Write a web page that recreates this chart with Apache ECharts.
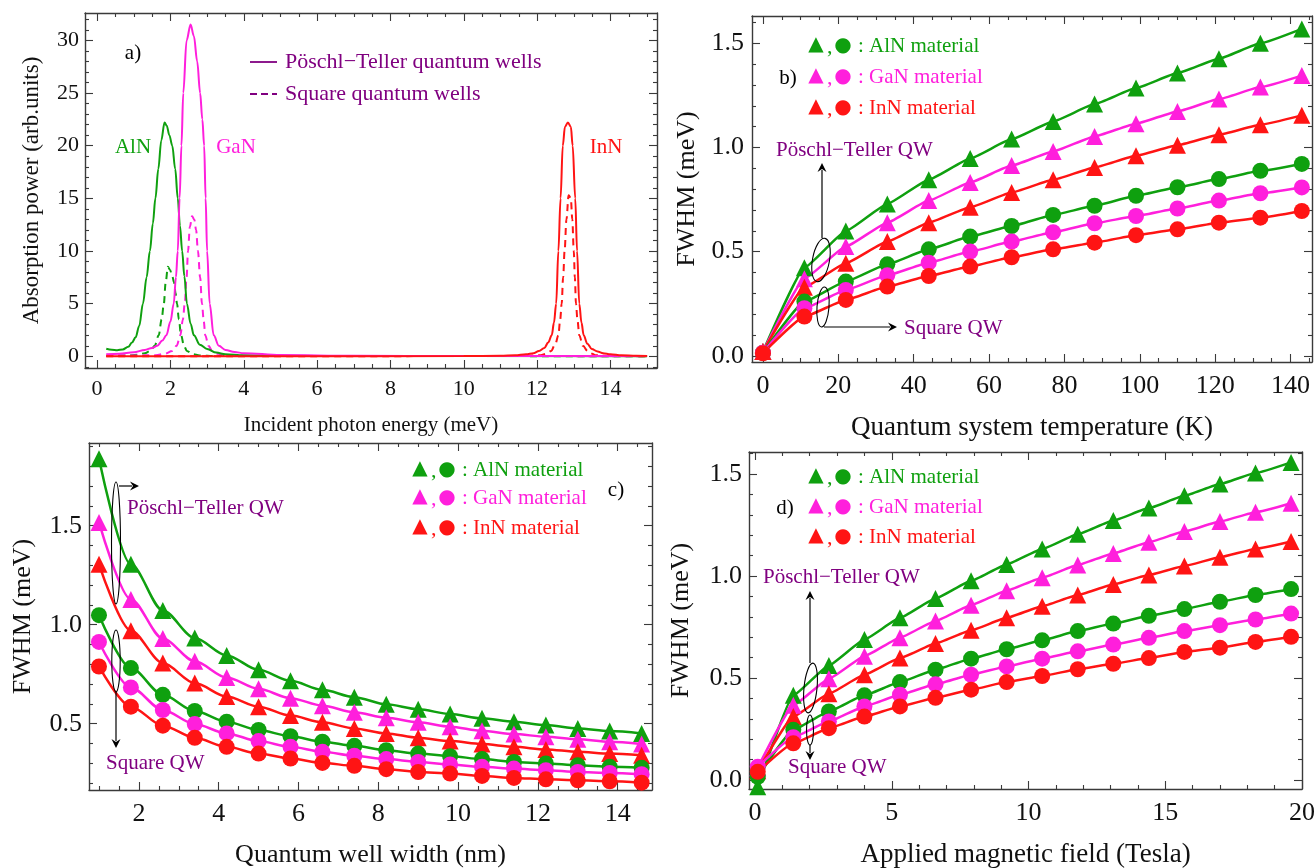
<!DOCTYPE html>
<html><head><meta charset="utf-8">
<script src="https://cdn.jsdelivr.net/npm/echarts@6/dist/echarts.min.js"></script>
<style>html,body{margin:0;padding:0;background:#fff}#c{width:1315px;height:868px}</style>
</head><body><div id="c"></div>
<script>
// ---------- Panel a: absorption spectra ([energy meV, absorption]) ----------
const aAlnPT = [[0.25,0.72],[0.4,0.62],[0.55,0.58],[0.7,0.65],[0.85,0.9],[0.95,1.3],[1.05,1.8],[1.15,2.9],[1.25,5.0],[1.35,7.5],[1.44,10],[1.52,12.6],[1.59,15],[1.67,17.8],[1.75,20.5],[1.84,22.2],[1.9,21.9],[1.97,21.0],[2.05,20.0],[2.13,17.8],[2.2,15],[2.26,12.4],[2.32,10],[2.38,7.6],[2.45,5],[2.55,3.1],[2.64,2],[2.8,1.1],[3.0,0.7],[3.25,0.35],[3.5,0.2],[4.0,0.1],[5,0.05],[7,0.02],[15,0.01]];
const aGanPT = [[0.25,0.2],[0.6,0.25],[1.0,0.38],[1.3,0.6],[1.5,0.8],[1.64,1.0],[1.78,1.5],[1.89,2.0],[2.0,3.3],[2.09,5],[2.15,7.5],[2.2,10],[2.25,15],[2.3,20],[2.35,25],[2.44,30],[2.55,31.5],[2.64,30.4],[2.73,28],[2.81,25],[2.87,22.5],[2.92,20],[2.96,15],[3.0,10],[3.07,5],[3.18,2],[3.32,1],[3.5,0.6],[3.75,0.4],[4.0,0.3],[5,0.12],[7,0.05],[10,0.03],[15,0.02]];
const aInnPT = [[0.25,0],[5,0],[10,0.02],[11,0.05],[11.4,0.1],[11.7,0.2],[11.9,0.3],[12.05,0.5],[12.2,0.8],[12.3,1.3],[12.4,2],[12.46,3.2],[12.52,5],[12.58,10],[12.64,15],[12.7,20],[12.76,21.8],[12.84,22.2],[12.92,21.8],[12.97,20],[13.04,15],[13.09,10],[13.15,5],[13.21,3.2],[13.27,2],[13.37,1.2],[13.49,0.7],[13.65,0.45],[13.8,0.3],[14.0,0.2],[14.3,0.1],[14.7,0.05],[15,0.03]];
const aAlnSQ = [[0.25,0.05],[0.8,0.07],[1.1,0.15],[1.3,0.3],[1.45,0.5],[1.57,1.0],[1.68,2],[1.76,3.5],[1.82,5],[1.87,7],[1.93,8.5],[1.99,8.2],[2.05,7.6],[2.1,7.0],[2.14,6.0],[2.18,5],[2.23,3.5],[2.29,2],[2.37,1.0],[2.45,0.5],[2.6,0.2],[2.8,0.08],[3.2,0.03],[15,0.01]];
const aGanSQ = [[0.25,0.05],[1.0,0.08],[1.6,0.1],[1.85,0.25],[2.05,0.5],[2.17,1.0],[2.27,2],[2.34,3.5],[2.39,5],[2.44,7.5],[2.48,10],[2.53,12.3],[2.59,13.3],[2.65,13.0],[2.7,12],[2.75,10],[2.81,7.5],[2.86,5],[2.91,3.3],[2.95,2],[3.04,1.0],[3.14,0.5],[3.3,0.25],[3.5,0.1],[4,0.04],[15,0.01]];
const aInnSQ = [[0.25,0],[11.5,0.02],[12.1,0.1],[12.25,0.25],[12.38,0.5],[12.5,1.2],[12.58,2],[12.63,3.5],[12.67,5],[12.71,7.5],[12.75,10],[12.8,13],[12.86,15.3],[12.92,15],[12.96,13],[13.0,10],[13.03,7.5],[13.06,5],[13.1,3.5],[13.15,2],[13.25,1.0],[13.38,0.5],[13.5,0.25],[13.6,0.1],[14,0.03],[15,0.01]];
const aXTicks = [0,2,4,6,8,10,12,14];
const aYTicks = [0,5,10,15,20,25,30];

// ---------- Panel b: FWHM vs temperature ----------
const tempK = [0,11,22,33,44,55,66,77,88,99,110,121,132,143];
const bAlnPT = [0.02,0.423,0.599,0.729,0.845,0.947,1.040,1.125,1.208,1.285,1.357,1.426,1.500,1.569];
const bGanPT = [0.02,0.370,0.524,0.639,0.745,0.832,0.913,0.981,1.053,1.114,1.173,1.232,1.290,1.345];
const bInnPT = [0.02,0.329,0.444,0.548,0.639,0.713,0.784,0.845,0.904,0.960,1.011,1.061,1.109,1.154];
const bAlnSQ = [0.015,0.260,0.356,0.439,0.511,0.572,0.623,0.676,0.720,0.768,0.809,0.848,0.888,0.921];
const bGanSQ = [0.015,0.228,0.316,0.386,0.447,0.500,0.548,0.593,0.636,0.671,0.707,0.745,0.780,0.808];
const bInnSQ = [0.012,0.188,0.268,0.332,0.383,0.428,0.473,0.511,0.543,0.579,0.607,0.639,0.663,0.695];
const bXTicks = [0,20,40,60,80,100,120,140];
const bYTicks = [0,0.5,1.0,1.5];

// ---------- Panel c: FWHM vs well width ----------
const widthNm = [1.0,1.8,2.6,3.4,4.2,5.0,5.8,6.6,7.4,8.2,9.0,9.8,10.6,11.4,12.2,13.0,13.8,14.6];
const cAlnPT = [1.838,1.305,1.072,0.933,0.845,0.772,0.717,0.671,0.634,0.598,0.573,0.549,0.527,0.510,0.493,0.476,0.463,0.451];
const cGanPT = [1.517,1.128,0.930,0.815,0.733,0.676,0.629,0.591,0.558,0.530,0.507,0.485,0.464,0.448,0.434,0.422,0.409,0.397];
const cInnPT = [1.305,0.970,0.806,0.705,0.637,0.586,0.541,0.507,0.476,0.451,0.429,0.412,0.397,0.383,0.370,0.358,0.349,0.341];
const cAlnSQ = [1.048,0.781,0.646,0.564,0.510,0.468,0.437,0.409,0.388,0.366,0.349,0.336,0.321,0.307,0.299,0.290,0.282,0.277];
const cGanSQ = [0.913,0.683,0.569,0.498,0.451,0.412,0.383,0.358,0.338,0.321,0.307,0.294,0.282,0.273,0.265,0.256,0.251,0.245];
const cInnSQ = [0.789,0.586,0.490,0.429,0.383,0.349,0.324,0.302,0.287,0.270,0.256,0.248,0.236,0.226,0.219,0.214,0.209,0.202];
const cXTicks = [2,4,6,8,10,12,14];
const cYTicks = [0.5,1.0,1.5];

// ---------- Panel d: FWHM vs magnetic field ----------
const fieldT = [0.1,1.4,2.7,4.0,5.3,6.6,7.9,9.2,10.5,11.8,13.1,14.4,15.7,17.0,18.3,19.6];
const dAlnPT = [-0.033,0.415,0.562,0.689,0.795,0.890,0.977,1.057,1.133,1.205,1.272,1.333,1.393,1.451,1.505,1.557];
const dGanPT = [0.060,0.366,0.497,0.607,0.698,0.780,0.857,0.928,0.992,1.054,1.111,1.166,1.218,1.267,1.313,1.357];
const dInnPT = [0.045,0.311,0.423,0.516,0.598,0.669,0.734,0.795,0.852,0.907,0.959,1.005,1.049,1.092,1.133,1.169];
const dAlnSQ = [0.016,0.246,0.336,0.415,0.480,0.541,0.595,0.641,0.685,0.730,0.767,0.805,0.838,0.874,0.907,0.936];
const dGanSQ = [0.065,0.210,0.287,0.361,0.418,0.469,0.516,0.557,0.595,0.631,0.664,0.697,0.730,0.759,0.787,0.816];
const dInnSQ = [0.040,0.180,0.254,0.311,0.361,0.403,0.443,0.480,0.510,0.543,0.570,0.598,0.628,0.649,0.677,0.702];
const dXTicks = [0,5,10,15,20];
const dYTicks = [0,0.5,1.0,1.5];

// ---------- styling ----------
const FONT = "'Liberation Serif','Times New Roman',serif";
const GREEN = '#0fa00f', MAG = '#ff1fdc', RED = '#ff1414', PURPLE = '#800080', FRAME = '#3a3a3a';

function minors(start, end, step, majors) {
  const out = [];
  for (let k = 0; ; k++) {
    const v = Math.round((start + k * step) * 1000) / 1000;
    if (v > end + 1e-9) break;
    if (!majors.some(m => Math.abs(m - v) < 1e-6)) out.push(v);
  }
  return out;
}
function pairs(xs, ys) { return xs.map((x, i) => [x, ys[i]]); }

const grids = [
  {left: 85, top: 13, width: 572, height: 355},
  {left: 752, top: 16, width: 560, height: 346},
  {left: 89, top: 443, width: 563, height: 347},
  {left: 749, top: 452, width: 553, height: 337}
].map(g => Object.assign(g, {outerBoundsMode: 'none', containLabel: false}));

const xAxes = [], yAxes = [];
function addAxes(g, p) {
  const xi = xAxes.length, yi = yAxes.length;
  const base = {type: 'value', gridIndex: g, splitLine: {show: false}, nameMoveOverlap: false};
  const line = {show: true, onZero: false, lineStyle: {color: FRAME, width: 1.4}};
  const noLine = {show: false, onZero: false};
  const tick = (vals, len) => ({show: true, inside: true, length: len, customValues: vals, lineStyle: {color: FRAME, width: 1.1}});
  const lab = (vals, fmt, margin) => ({show: true, customValues: vals, formatter: fmt, margin: margin, fontSize: p.tickFont, fontFamily: FONT, color: '#111'});
  const xr = {min: p.xr[0], max: p.xr[1]}, yr = {min: p.yr[0], max: p.yr[1]};
  xAxes.push(Object.assign({}, base, xr, {position: 'bottom', axisLine: line, axisTick: tick(p.xMaj, 8),
    axisLabel: lab(p.xMaj, v => String(v), p.xMargin),
    name: p.xName, nameLocation: 'middle', nameGap: p.xGap, nameTextStyle: {fontSize: p.xNameFont, fontFamily: FONT, color: '#111'}}));
  xAxes.push(Object.assign({}, base, xr, {position: 'bottom', axisLine: noLine, axisTick: tick(p.xMin, 4), axisLabel: {show: false}}));
  xAxes.push(Object.assign({}, base, xr, {position: 'top', axisLine: line, axisTick: tick(p.xMaj, 8), axisLabel: {show: false}}));
  xAxes.push(Object.assign({}, base, xr, {position: 'top', axisLine: noLine, axisTick: tick(p.xMin, 4), axisLabel: {show: false}}));
  yAxes.push(Object.assign({}, base, yr, {position: 'left', axisLine: line, axisTick: tick(p.yMaj, 8),
    axisLabel: lab(p.yMaj, p.yFmt, p.yMargin),
    name: p.yName, nameLocation: 'middle', nameGap: p.yGap, nameTextStyle: {fontSize: p.yNameFont, fontFamily: FONT, color: '#111'}}));
  yAxes.push(Object.assign({}, base, yr, {position: 'left', axisLine: noLine, axisTick: tick(p.yMin, 4), axisLabel: {show: false}}));
  yAxes.push(Object.assign({}, base, yr, {position: 'right', axisLine: line, axisTick: tick(p.yMaj, 8), axisLabel: {show: false}}));
  yAxes.push(Object.assign({}, base, yr, {position: 'right', axisLine: noLine, axisTick: tick(p.yMin, 4), axisLabel: {show: false}}));
  return {xi, yi};
}
const f1 = v => v.toFixed(1);
const axA = addAxes(0, {xr: [-0.33, 15.27], yr: [-1.11, 32.6], xMaj: aXTicks, xMin: minors(0, 15, 0.5, aXTicks), yMaj: aYTicks, yMin: minors(-1, 32, 1, aYTicks),
  tickFont: 22, xMargin: 10, yMargin: 6, yFmt: v => String(v), xName: 'Incident photon energy (meV)', xGap: 47, xNameFont: 21, yName: 'Absorption power (arb.units)', yGap: 42, yNameFont: 23});
const axB = addAxes(1, {xr: [-2.9, 145.7], yr: [-0.03, 1.631], xMaj: bXTicks, xMin: minors(0, 145, 5, bXTicks), yMaj: bYTicks, yMin: minors(0, 1.6, 0.1, bYTicks),
  tickFont: 26, xMargin: 11, yMargin: 8, yFmt: f1, xName: 'Quantum system temperature (K)', xGap: 52, xNameFont: 27, yName: 'FWHM (meV)', yGap: 52, yNameFont: 26});
const axC = addAxes(2, {xr: [0.75, 14.86], yr: [0.165, 1.918], xMaj: cXTicks, xMin: minors(1, 14.5, 0.5, cXTicks), yMaj: cYTicks, yMin: minors(0.2, 1.9, 0.1, cYTicks),
  tickFont: 26, xMargin: 11, yMargin: 7, yFmt: f1, xName: 'Quantum well width (nm)', xGap: 52, xNameFont: 26, yName: 'FWHM (meV)', yGap: 53, yNameFont: 26});
const axD = addAxes(3, {xr: [-0.22, 20], yr: [-0.044, 1.608], xMaj: dXTicks, xMin: minors(0, 20, 1, dXTicks), yMaj: dYTicks, yMin: minors(0, 1.6, 0.1, dYTicks),
  tickFont: 26, xMargin: 11, yMargin: 7, yFmt: f1, xName: 'Applied magnetic field (Tesla)', xGap: 52, xNameFont: 27, yName: 'FWHM (meV)', yGap: 55, yNameFont: 26});

const series = [];
function curve(ax, data, color, dashed) {
  series.push({type: 'line', xAxisIndex: ax.xi, yAxisIndex: ax.yi, data: data, showSymbol: false, symbol: 'none',
    smooth: 0.35, smoothMonotone: 'x', lineStyle: {color: color, width: 2, type: dashed ? [7, 5] : 'solid'}, silent: true});
}
curve(axA, aAlnSQ, GREEN, true);
curve(axA, aGanSQ, MAG, true);
curve(axA, aInnSQ, RED, true);
curve(axA, aAlnPT, GREEN, false);
curve(axA, aGanPT, MAG, false);
curve(axA, aInnPT, RED, false);

function marked(ax, xs, ys, color, sym, size, sm) {
  series.push({type: 'line', xAxisIndex: ax.xi, yAxisIndex: ax.yi, data: pairs(xs, ys), symbol: sym, symbolSize: size, showSymbol: true,
    smooth: sm, smoothMonotone: 'x', lineStyle: {color: color, width: 2.5}, itemStyle: {color: color, borderWidth: 0}, clip: true, silent: true});
}
[[axB, tempK, [bAlnPT, bAlnSQ, bGanPT, bGanSQ, bInnPT, bInnSQ], 0.12],
 [axC, widthNm, [cAlnPT, cAlnSQ, cGanPT, cGanSQ, cInnPT, cInnSQ], 0.3],
 [axD, fieldT, [dAlnPT, dAlnSQ, dGanPT, dGanSQ, dInnPT, dInnSQ], 0.12]].forEach(([ax, xs, arr, sm]) => {
  marked(ax, xs, arr[0], GREEN, 'triangle', 17, sm);
  marked(ax, xs, arr[2], MAG, 'triangle', 17, sm);
  marked(ax, xs, arr[4], RED, 'triangle', 17, sm);
  marked(ax, xs, arr[1], GREEN, 'circle', 16, sm);
  marked(ax, xs, arr[3], MAG, 'circle', 16, sm);
  marked(ax, xs, arr[5], RED, 'circle', 16, sm);
});

// ---------- annotations ----------
const G = [];
function txt(s, x, y, color, size, align, family) {
  G.push({type: 'text', x: x, y: y, z: 100, style: {text: s, fill: color, font: size + 'px ' + (family || FONT), textAlign: align || 'left', textVerticalAlign: 'middle', verticalAlign: 'middle'}});
}
function seg(x1, y1, x2, y2, color, w, dash) {
  G.push({type: 'line', z: 100, shape: {x1, y1, x2, y2}, style: {stroke: color, lineWidth: w, lineDash: dash || null}});
}
function arrow(x1, y1, x2, y2) {
  const a = Math.atan2(y2 - y1, x2 - x1), L = 9, W = 4.5;
  const bx = x2 - L * Math.cos(a), by = y2 - L * Math.sin(a);
  const px = -Math.sin(a) * W, py = Math.cos(a) * W;
  seg(x1, y1, bx + 2 * Math.cos(a), by + 2 * Math.sin(a), '#000', 1.2);
  G.push({type: 'polygon', z: 100, shape: {points: [[x2, y2], [bx + px, by + py], [bx + 3 * Math.cos(a), by + 3 * Math.sin(a)], [bx - px, by - py]]}, style: {fill: '#000'}});
}
function ell(cx, cy, rx, ry, rot) {
  G.push({type: 'ellipse', z: 100, x: cx, y: cy, rotation: rot || 0, shape: {cx: 0, cy: 0, rx: rx, ry: ry}, style: {fill: 'none', stroke: '#000', lineWidth: 1.1}});
}
const SYMF = "'DejaVu Sans',sans-serif";
function legendRow(x0, y, color, label) {
  txt('\u25B2', x0 + 7, y - 1, color, 20, 'center', SYMF);
  txt(',', x0 + 18, y + 1, color, 22);
  txt('\u25CF', x0 + 34, y, color, 20, 'center', SYMF);
  txt(': ' + label, x0 + 49, y, color, 21);
}
function legend3(x, ys) {
  legendRow(x, ys[0], GREEN, 'AlN material');
  legendRow(x, ys[1], MAG, 'GaN material');
  legendRow(x, ys[2], RED, 'InN material');
}
// panel a
txt('a)', 133, 53, '#000', 21, 'center');
seg(250, 62, 277, 62, PURPLE, 1.8);
txt('P\u00F6schl\u2212Teller quantum wells', 285, 62, PURPLE, 22);
seg(250, 94, 277, 94, PURPLE, 1.8, [7, 4]);
txt('Square quantum wells', 285, 94, PURPLE, 22);
txt('AlN', 133, 147, GREEN, 21, 'center');
txt('GaN', 236, 147, MAG, 21, 'center');
txt('InN', 606, 147, RED, 21, 'center');
// panel b
legend3(809, [46, 77, 108]);
txt('b)', 788, 78, '#000', 21, 'center');
txt('P\u00F6schl\u2212Teller QW', 776, 150, PURPLE, 21);
arrow(822, 238, 822, 163);
ell(821, 260, 8.5, 22, -0.18);
ell(823, 307, 6, 20, -0.08);
arrow(824, 327, 897, 327);
txt('Square QW', 904, 328, PURPLE, 21);
// panel c
legend3(413, [470, 498, 528]);
txt('c)', 616, 490, '#000', 21, 'center');
txt('P\u00F6schl\u2212Teller QW', 127, 508, PURPLE, 21);
ell(116, 543, 4.5, 61, 0);
arrow(119, 486, 139, 486);
ell(116, 661, 4.2, 31, 0);
arrow(116, 692, 116, 748);
txt('Square QW', 106, 763, PURPLE, 21);
// panel d
legend3(809, [477, 507, 537]);
txt('d)', 785, 508, '#000', 21, 'center');
txt('P\u00F6schl\u2212Teller QW', 763, 577, PURPLE, 21);
arrow(810, 663, 810, 591);
ell(810.5, 688, 6.5, 25, -0.1);
ell(810, 730, 3.5, 15, 0);
arrow(810, 745, 810, 760);
txt('Square QW', 788, 767, PURPLE, 21);

const chart = echarts.init(document.getElementById('c'), null, {renderer: 'canvas'});
chart.setOption({
  animation: false,
  backgroundColor: '#fff',
  grid: grids,
  xAxis: xAxes,
  yAxis: yAxes,
  series: series,
  graphic: G
});
</script></body></html>
